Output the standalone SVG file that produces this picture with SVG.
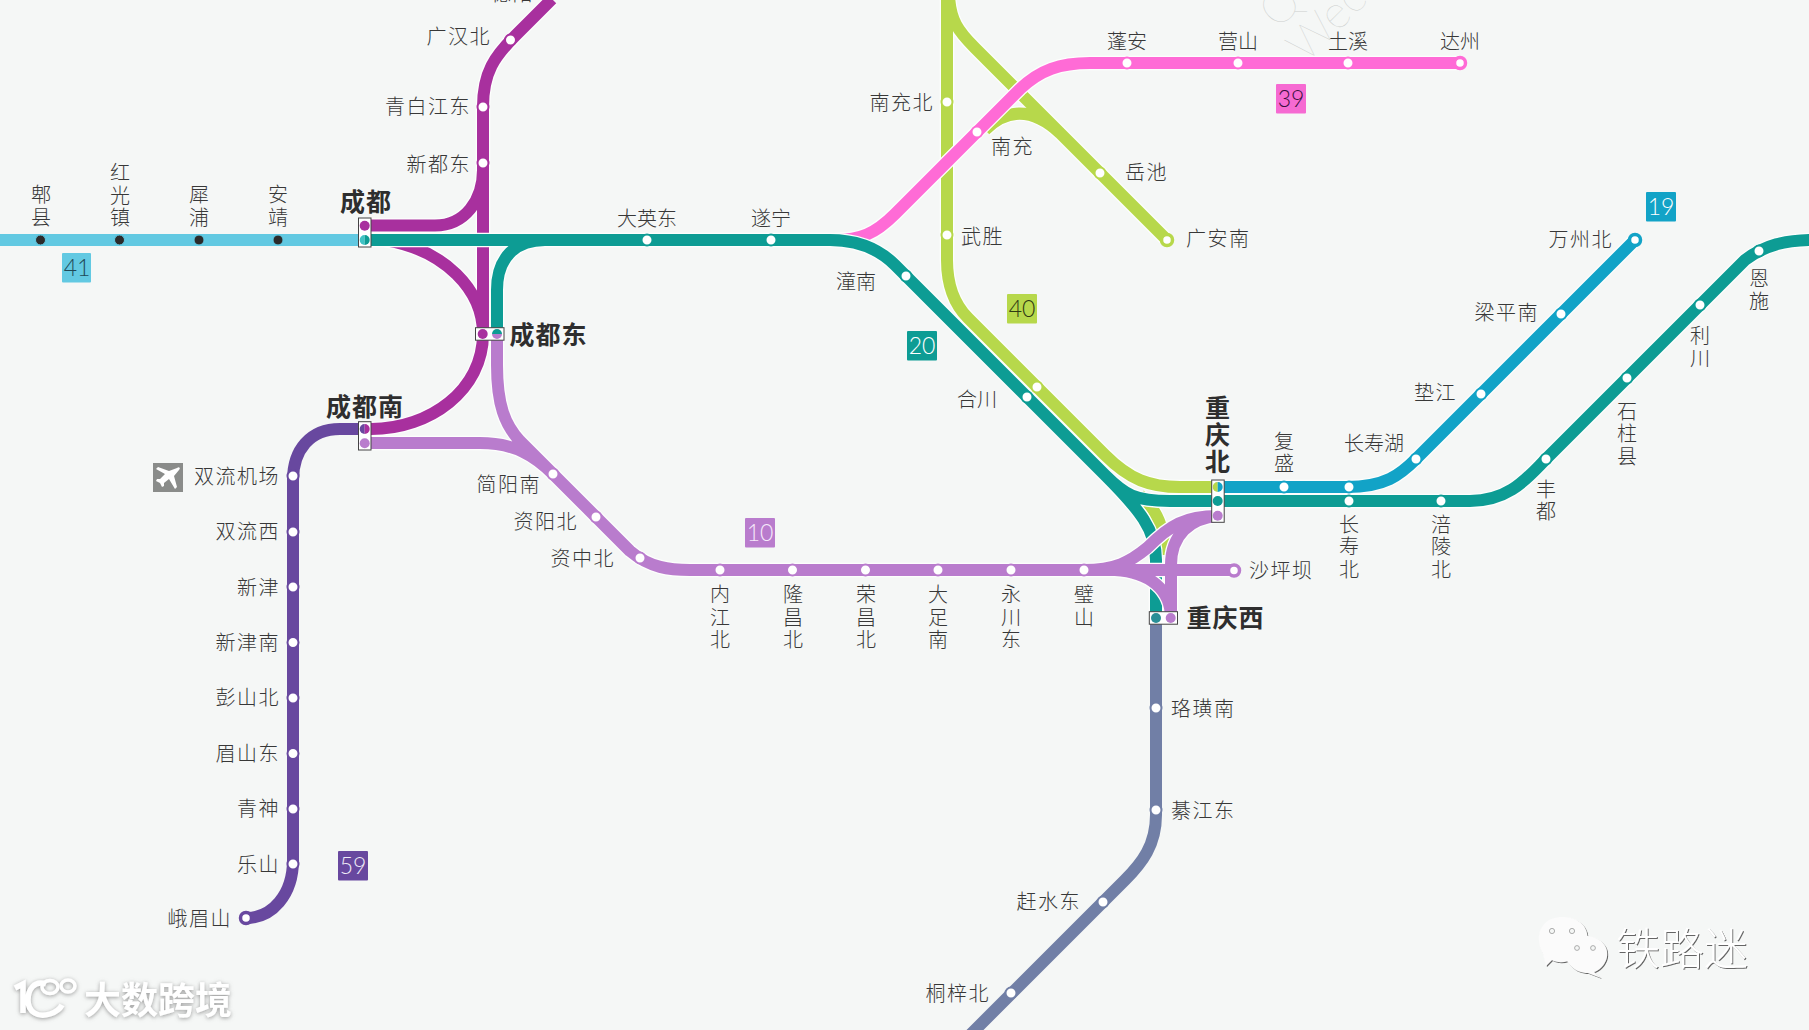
<svg xmlns="http://www.w3.org/2000/svg" xmlns:xlink="http://www.w3.org/1999/xlink" width="1809" height="1030" viewBox="0 0 1809 1030">
<style>
text{font-family:"Noto Sans CJK SC","Noto Sans",sans-serif}
.l{font-size:20px;font-weight:300;fill:#383838;letter-spacing:1.5px}
.c{text-anchor:middle;letter-spacing:0}
.e{text-anchor:end}
.b{font-size:25px;font-weight:700;fill:#2e2e2e;letter-spacing:1px}
.n{font-family:"Lato","Open Sans",sans-serif;font-size:23px;font-weight:300;text-anchor:middle}
.line{fill:none;stroke-width:12}
.case{fill:none;stroke:#fdfefd;stroke-width:14.5}
.s{fill:#fff;stroke-width:2}
.t{fill:#fff;stroke-width:3.5}
.d{fill:#2b2b2b;stroke:#62c9e2;stroke-width:1}
.box{fill:#fff;stroke:#444;stroke-width:1}
.wm{font-weight:700;fill:#fff}
.q{font-family:"Lato",sans-serif;font-size:46px;font-weight:100;fill:#cdd0ce}
</style>
<defs>
<filter id="sh" x="-20%" y="-20%" width="140%" height="140%"><feDropShadow dx="0" dy="1" stdDeviation="2" flood-color="#777" flood-opacity="0.75"/></filter>
<filter id="em" x="-20%" y="-20%" width="140%" height="140%"><feDropShadow dx="1" dy="1" stdDeviation="0.6" flood-color="#555" flood-opacity="0.9"/></filter>
<path id="p41" d="M-5,240H365"/>
<path id="pgrey" d="M1156,618V815C1156,845 1142,863 1125,880L960,1045"/>
<path id="p59" d="M365,429H340C310,429 293,450 293,480V860C293,895 272,918 246,918"/>
<path id="p40" d="M947,-5V260C947,285 955,305 968,318L1105,455C1130,480 1150,487 1180,487H1218M949,-5C950,20 958,31 975,48L1167,240M985,130C1005,110 1030,105 1060,133M1140,495C1158,510 1165,530 1165,555"/>
<path id="p39" d="M835,240C860,240 875,234 895,214L1020,89C1040,70 1060,63 1090,63H1460"/>
<path id="p18" d="M552,-1L515,36C495,56 483,72 483,107V334M371,225.5H435C465,225.5 483,200 483,170M385,240C445,250 483,290 483,334C483,390 430,429 371,429"/>
<path id="p20" d="M371,240H830C860,240 880,250 895,265L1105,475C1125,495 1135,501 1170,501H1470C1510,501 1528,477 1546,459L1745,260C1765,245 1785,240 1815,240M497,334V290C497,258 515,240 545,240M1105,475C1140,510 1156,530 1156,560V618"/>
<path id="p19" d="M1218,487H1347C1385,487 1400,475 1416,459L1635,240"/>
<path id="p10" d="M497,334V365C497,405 505,425 520,441L630,551C650,568 670,570 690,570H1234M371,443H480C515,443 535,456 553,474M1084,570C1115,570 1130,562 1147,548C1170,525 1185,516 1218,516C1190,518 1171,535 1171,565V618M1115,570C1150,572 1171,590 1171,618"/>
</defs>
<rect width="1809" height="1030" fill="#f5f7f6"/>
<text class="q" x="1278" y="30" transform="rotate(-45 1278 30)">Q</text>
<text class="q" x="1306" y="64" transform="rotate(-45 1306 64)">Wec</text>
<g id="connectors">
<use href="#p41" class="line" stroke="#62c9e2"/>
<use href="#pgrey" class="line" stroke="#717fa6"/>
<use href="#p59" class="line" stroke="#68489f"/>
<use href="#p40" class="case"/><use href="#p40" class="line" stroke="#b7d84b"/>
<use href="#p39" class="case"/><use href="#p39" class="line" stroke="#ff6bd6"/>
<use href="#p18" class="case"/><use href="#p18" class="line" stroke="#a8309e"/>
<use href="#p20" class="case"/><use href="#p20" class="line" stroke="#0d9c94"/>
<use href="#p19" class="case"/><use href="#p19" class="line" stroke="#12a3c7"/>
<use href="#p10" class="case"/><use href="#p10" class="line" stroke="#b97ccd"/>
</g>

<g id="st-pixian"><circle class="d" cx="40.5" cy="240" r="5"/><text class="l c" x="41" y="202">郫<tspan x="41" dy="23">县</tspan></text></g>
<g id="st-hongguangzhen"><circle class="d" cx="119.5" cy="240" r="5"/><text class="l c" x="120" y="180">红<tspan x="120" dy="23">光</tspan><tspan x="120" dy="22">镇</tspan></text></g>
<g id="st-xipu"><circle class="d" cx="199" cy="240" r="5"/><text class="l c" x="199" y="202">犀<tspan x="199" dy="23">浦</tspan></text></g>
<g id="st-anjing"><circle class="d" cx="278" cy="240" r="5"/><text class="l c" x="278" y="202">安<tspan x="278" dy="23">靖</tspan></text></g>

<g id="st-deyang"><text class="l e" x="534" y="1">德阳</text></g>
<g id="st-guanghanbei"><circle class="s" stroke="#a8309e" cx="510.5" cy="40" r="5.5"/><text class="l e" x="491" y="44">广汉北</text></g>
<g id="st-qingbaijiangdong"><circle class="s" stroke="#a8309e" cx="483" cy="107" r="5.5"/><text class="l e" x="471" y="114">青白江东</text></g>
<g id="st-xindudong"><circle class="s" stroke="#a8309e" cx="483" cy="163" r="5.5"/><text class="l e" x="471" y="172">新都东</text></g>

<g id="st-dayingdong"><circle class="s" stroke="#0d9c94" cx="647" cy="240" r="5.5"/><text class="l c" x="647" y="226">大英东</text></g>
<g id="st-suining"><circle class="s" stroke="#0d9c94" cx="771" cy="240" r="5.5"/><text class="l c" x="771" y="226">遂宁</text></g>
<g id="st-tongnan"><circle class="s" stroke="#0d9c94" cx="906" cy="276" r="5.5"/><text class="l c" x="856" y="289">潼南</text></g>
<g id="st-hechuan"><circle class="s" stroke="#0d9c94" cx="1027" cy="397" r="5.5"/><text class="l c" x="977" y="407">合川</text></g>
<g id="st-changshoubei"><circle class="s" stroke="#0d9c94" cx="1349" cy="501" r="5.5"/><text class="l c" x="1349" y="532">长<tspan x="1349" dy="22">寿</tspan><tspan x="1349" dy="23">北</tspan></text></g>
<g id="st-fulingbei"><circle class="s" stroke="#0d9c94" cx="1441" cy="501" r="5.5"/><text class="l c" x="1441" y="532">涪<tspan x="1441" dy="22">陵</tspan><tspan x="1441" dy="23">北</tspan></text></g>
<g id="st-fengdu"><circle class="s" stroke="#0d9c94" cx="1546" cy="459" r="5.5"/><text class="l c" x="1546" y="497">丰<tspan x="1546" dy="22">都</tspan></text></g>
<g id="st-shizhuxian"><circle class="s" stroke="#0d9c94" cx="1627" cy="378" r="5.5"/><text class="l c" x="1627" y="419">石<tspan x="1627" dy="22">柱</tspan><tspan x="1627" dy="23">县</tspan></text></g>
<g id="st-lichuan"><circle class="s" stroke="#0d9c94" cx="1700" cy="305" r="5.5"/><text class="l c" x="1700" y="343">利<tspan x="1700" dy="23">川</tspan></text></g>
<g id="st-enshi"><circle class="s" stroke="#0d9c94" cx="1759" cy="251" r="5.5"/><text class="l c" x="1759" y="286">恩<tspan x="1759" dy="23">施</tspan></text></g>

<g id="st-nanchongbei"><circle class="s" stroke="#b7d84b" cx="947" cy="102" r="5.5"/><text class="l e" x="934" y="110">南充北</text></g>
<g id="st-wusheng"><circle class="s" stroke="#b7d84b" cx="947" cy="235" r="5.5"/><text class="l" x="961" y="244">武胜</text></g>
<g id="st-yuechi"><circle class="s" stroke="#b7d84b" cx="1100" cy="173" r="5.5"/><text class="l" x="1125" y="180">岳池</text></g>
<g id="st-guangannan"><circle class="t" stroke="#b7d84b" cx="1167" cy="240" r="5.5"/><text class="l" x="1186" y="246">广安南</text></g>
<g id="st-lime-hechuan"><circle class="s" stroke="#b7d84b" cx="1037" cy="387" r="5.5"/></g>

<g id="st-nanchong"><circle class="s" stroke="#ff6bd6" cx="977" cy="132" r="5.5"/><text class="l" x="991" y="154">南充</text></g>
<g id="st-pengan"><circle class="s" stroke="#ff6bd6" cx="1127" cy="63" r="5.5"/><text class="l c" x="1127" y="49">蓬安</text></g>
<g id="st-yingshan"><circle class="s" stroke="#ff6bd6" cx="1238" cy="63" r="5.5"/><text class="l c" x="1238" y="49">营山</text></g>
<g id="st-tuxi"><circle class="s" stroke="#ff6bd6" cx="1348" cy="63" r="5.5"/><text class="l c" x="1348" y="49">土溪</text></g>
<g id="st-dazhou"><circle class="t" stroke="#ff6bd6" cx="1460" cy="63" r="5.5"/><text class="l c" x="1460" y="49">达州</text></g>

<g id="st-fusheng"><circle class="s" stroke="#12a3c7" cx="1284" cy="487" r="5.5"/><text class="l c" x="1284" y="449">复<tspan x="1284" dy="22">盛</tspan></text></g>
<g id="st-changshouhu"><circle class="s" stroke="#12a3c7" cx="1349" cy="487" r="5.5"/><text class="l c" x="1374" y="451">长寿湖</text></g>
<g id="st-guangshui"><circle class="s" stroke="#12a3c7" cx="1416" cy="459" r="5.5"/></g>
<g id="st-dianjiang"><circle class="s" stroke="#12a3c7" cx="1481" cy="394" r="5.5"/><text class="l e" x="1457" y="400">垫江</text></g>
<g id="st-liangpingnan"><circle class="s" stroke="#12a3c7" cx="1561" cy="314" r="5.5"/><text class="l e" x="1539" y="320">梁平南</text></g>
<g id="st-wanzhoubei"><circle class="t" stroke="#12a3c7" cx="1635" cy="240" r="5.5"/><text class="l e" x="1613" y="247">万州北</text></g>

<g id="st-jianyangnan"><circle class="s" stroke="#b97ccd" cx="553" cy="474" r="5.5"/><text class="l e" x="541" y="492">简阳南</text></g>
<g id="st-ziyangbei"><circle class="s" stroke="#b97ccd" cx="596" cy="517" r="5.5"/><text class="l e" x="578" y="529">资阳北</text></g>
<g id="st-zizhongbei"><circle class="s" stroke="#b97ccd" cx="640" cy="558" r="5.5"/><text class="l e" x="615" y="566">资中北</text></g>
<g id="st-neijiangbei"><circle class="s" stroke="#b97ccd" cx="720" cy="570" r="5.5"/><text class="l c" x="720" y="602">内<tspan x="720" dy="23">江</tspan><tspan x="720" dy="22">北</tspan></text></g>
<g id="st-longchangbei"><circle class="s" stroke="#b97ccd" cx="792.5" cy="570" r="5.5"/><text class="l c" x="793" y="602">隆<tspan x="793" dy="23">昌</tspan><tspan x="793" dy="22">北</tspan></text></g>
<g id="st-rongchangbei"><circle class="s" stroke="#b97ccd" cx="865.5" cy="570" r="5.5"/><text class="l c" x="866" y="602">荣<tspan x="866" dy="23">昌</tspan><tspan x="866" dy="22">北</tspan></text></g>
<g id="st-dazunan"><circle class="s" stroke="#b97ccd" cx="938" cy="570" r="5.5"/><text class="l c" x="938" y="602">大<tspan x="938" dy="23">足</tspan><tspan x="938" dy="22">南</tspan></text></g>
<g id="st-yongchuandong"><circle class="s" stroke="#b97ccd" cx="1011" cy="570" r="5.5"/><text class="l c" x="1011" y="602">永<tspan x="1011" dy="23">川</tspan><tspan x="1011" dy="22">东</tspan></text></g>
<g id="st-bishan"><circle class="s" stroke="#b97ccd" cx="1084" cy="570" r="5.5"/><text class="l c" x="1084" y="602">璧<tspan x="1084" dy="23">山</tspan></text></g>
<g id="st-shapingba"><circle class="t" stroke="#b97ccd" cx="1234" cy="570.5" r="5.5"/><text class="l" x="1249" y="578">沙坪坝</text></g>

<g id="st-luohuangnan"><circle class="s" stroke="#717fa6" cx="1156" cy="708" r="5.5"/><text class="l" x="1171" y="716">珞璜南</text></g>
<g id="st-qijiangdong"><circle class="s" stroke="#717fa6" cx="1156" cy="810" r="5.5"/><text class="l" x="1171" y="818">綦江东</text></g>
<g id="st-ganshuidong"><circle class="s" stroke="#717fa6" cx="1103" cy="902" r="5.5"/><text class="l e" x="1081" y="909">赶水东</text></g>
<g id="st-tongzibei"><circle class="s" stroke="#717fa6" cx="1011" cy="993" r="5.5"/><text class="l e" x="990" y="1001">桐梓北</text></g>

<g id="st-shuangliujichang"><circle class="s" stroke="#68489f" cx="293" cy="476" r="5.5"/><rect x="153" y="463" width="30" height="29" fill="#8a8c8a"/><path d="M177,468C179,466 181,468 179,470L174,476L177,487L175,489L169,479L164,483V486L162,487L160,483L156,481L157,479L160,479L165,474L156,469L158,467L169,471Z" fill="#fff"/><text class="l e" x="280" y="484">双流机场</text></g>
<g id="st-shuangliuxi"><circle class="s" stroke="#68489f" cx="293" cy="532" r="5.5"/><text class="l e" x="280" y="539">双流西</text></g>
<g id="st-xinjin"><circle class="s" stroke="#68489f" cx="293" cy="587" r="5.5"/><text class="l e" x="280" y="595">新津</text></g>
<g id="st-xinjinnan"><circle class="s" stroke="#68489f" cx="293" cy="642.5" r="5.5"/><text class="l e" x="280" y="650">新津南</text></g>
<g id="st-pengshanbei"><circle class="s" stroke="#68489f" cx="293" cy="698" r="5.5"/><text class="l e" x="280" y="705">彭山北</text></g>
<g id="st-meishandong"><circle class="s" stroke="#68489f" cx="293" cy="753.5" r="5.5"/><text class="l e" x="280" y="761">眉山东</text></g>
<g id="st-qingshen"><circle class="s" stroke="#68489f" cx="293" cy="809" r="5.5"/><text class="l e" x="280" y="816">青神</text></g>
<g id="st-leshan"><circle class="s" stroke="#68489f" cx="293" cy="864" r="5.5"/><text class="l e" x="280" y="872">乐山</text></g>
<g id="st-emeishan"><circle class="t" stroke="#68489f" cx="246" cy="918" r="5.5"/><text class="l e" x="232" y="926">峨眉山</text></g>

<g id="st-chengdu"><rect class="box" x="358.5" y="218" width="12.5" height="29"/><circle cx="364.7" cy="225.7" r="5" fill="#a8309e"/><path d="M364.7,235V245A5,5 0 0 1 364.7,235Z" fill="#3fc2c4"/><path d="M364.7,235V245A5,5 0 0 0 364.7,235Z" fill="#0d9c94"/><text class="b" x="366" y="211" text-anchor="middle">成都</text></g>
<g id="st-chengdudong"><rect class="box" x="475.5" y="327.7" width="28.5" height="12.5"/><circle cx="482.7" cy="334" r="5" fill="#a8309e"/><path d="M492,334A5,5 0 0 1 502,334Z" fill="#0d9c94"/><path d="M492,334A5,5 0 0 0 502,334Z" fill="#b97ccd"/><text class="b" x="509.5" y="344">成都东</text></g>
<g id="st-chengdunan"><rect class="box" x="358.5" y="421.7" width="12.5" height="28.3"/><path d="M364.7,424V434A5,5 0 0 1 364.7,424Z" fill="#68489f"/><path d="M364.7,424V434A5,5 0 0 0 364.7,424Z" fill="#a8309e"/><circle cx="364.7" cy="443.3" r="5" fill="#b97ccd"/><text class="b" x="365" y="416" text-anchor="middle">成都南</text></g>
<g id="st-chongqingbei"><rect class="box" x="1211.7" y="480" width="12.5" height="42.3"/><path d="M1217.7,482V492A5,5 0 0 1 1217.7,482Z" fill="#b7d84b"/><path d="M1217.7,482V492A5,5 0 0 0 1217.7,482Z" fill="#12a3c7"/><circle cx="1217.7" cy="501" r="5" fill="#0d9c94"/><circle cx="1217.7" cy="515.7" r="5" fill="#b97ccd"/><text class="b" x="1218" y="417" text-anchor="middle">重<tspan x="1218" dy="27">庆</tspan><tspan x="1218" dy="26.5">北</tspan></text></g>
<g id="st-chongqingxi"><rect class="box" x="1149.3" y="611.7" width="28.2" height="12.5"/><circle cx="1156" cy="618" r="5" fill="#2a8f96"/><circle cx="1170.7" cy="618" r="5" fill="#b97ccd"/><text class="b" x="1186.5" y="627">重庆西</text></g>

<g id="badge-41"><rect x="62" y="253" width="29" height="29.5" rx="1" fill="#62c9e2"/><text class="n" x="77" y="276" fill="#1f4a58">41</text></g>
<g id="badge-19"><rect x="1646" y="192" width="30" height="29.5" rx="1" fill="#12a3c7"/><text class="n" x="1661" y="214.5" fill="#fff">19</text></g>
<g id="badge-39"><rect x="1276" y="84" width="30" height="29.5" rx="1" fill="#f66ad2"/><text class="n" x="1291" y="106.5" fill="#3a1040">39</text></g>
<g id="badge-40"><rect x="1007" y="294" width="30" height="29.5" rx="1" fill="#b7d84b"/><text class="n" x="1022" y="317" fill="#2f3a14">40</text></g>
<g id="badge-20"><rect x="907" y="331" width="30" height="29.5" rx="1" fill="#0d9c94"/><text class="n" x="922" y="354" fill="#fff">20</text></g>
<g id="badge-10"><rect x="745" y="518" width="30" height="29.5" rx="1" fill="#b97ccd"/><text class="n" x="760" y="541" fill="#f6e9fb">10</text></g>
<g id="badge-59"><rect x="338" y="851" width="30" height="29.5" rx="1" fill="#68489f"/><text class="n" x="353" y="874" fill="#f0ecf8">59</text></g>

<g id="wm-left" filter="url(#sh)">
<path d="M15,988L23,984V1013M46,984C34,980 28,990 28,1000C28,1012 38,1018 50,1014C56,1012 60,1009 62,1005" fill="none" stroke="#fff" stroke-width="5.5"/>
<ellipse cx="50" cy="987" rx="8" ry="6.5" fill="none" stroke="#fff" stroke-width="3.5"/>
<ellipse cx="68" cy="986" rx="7" ry="6" fill="none" stroke="#fff" stroke-width="3.5"/>
<text class="wm" x="84" y="1014" font-size="37">大数跨境</text>
</g>
<g id="wm-right">
<g filter="url(#em)" fill="#fbfbfb">
<path d="M1543,954C1533,935 1542,917 1562,917C1580,917 1590,928 1587,943C1580,962 1560,965 1552,960L1546,966Z"/>
<path d="M1570,965C1558,950 1568,936 1585,936C1600,936 1609,946 1607,957C1605,966 1598,971 1594,972L1601,978L1588,973C1582,973 1575,971 1570,965Z"/>
</g>
<g fill="#f5f7f6" stroke="#999" stroke-width="0.8"><circle cx="1552" cy="931" r="2.6"/><circle cx="1572" cy="931" r="2.6"/><circle cx="1577" cy="948" r="2.4"/><circle cx="1593" cy="948" r="2.4"/></g>
<text x="1616" y="965" font-size="44" font-weight="300" fill="#fff" filter="url(#em)">铁路迷</text>
</g>
</svg>
